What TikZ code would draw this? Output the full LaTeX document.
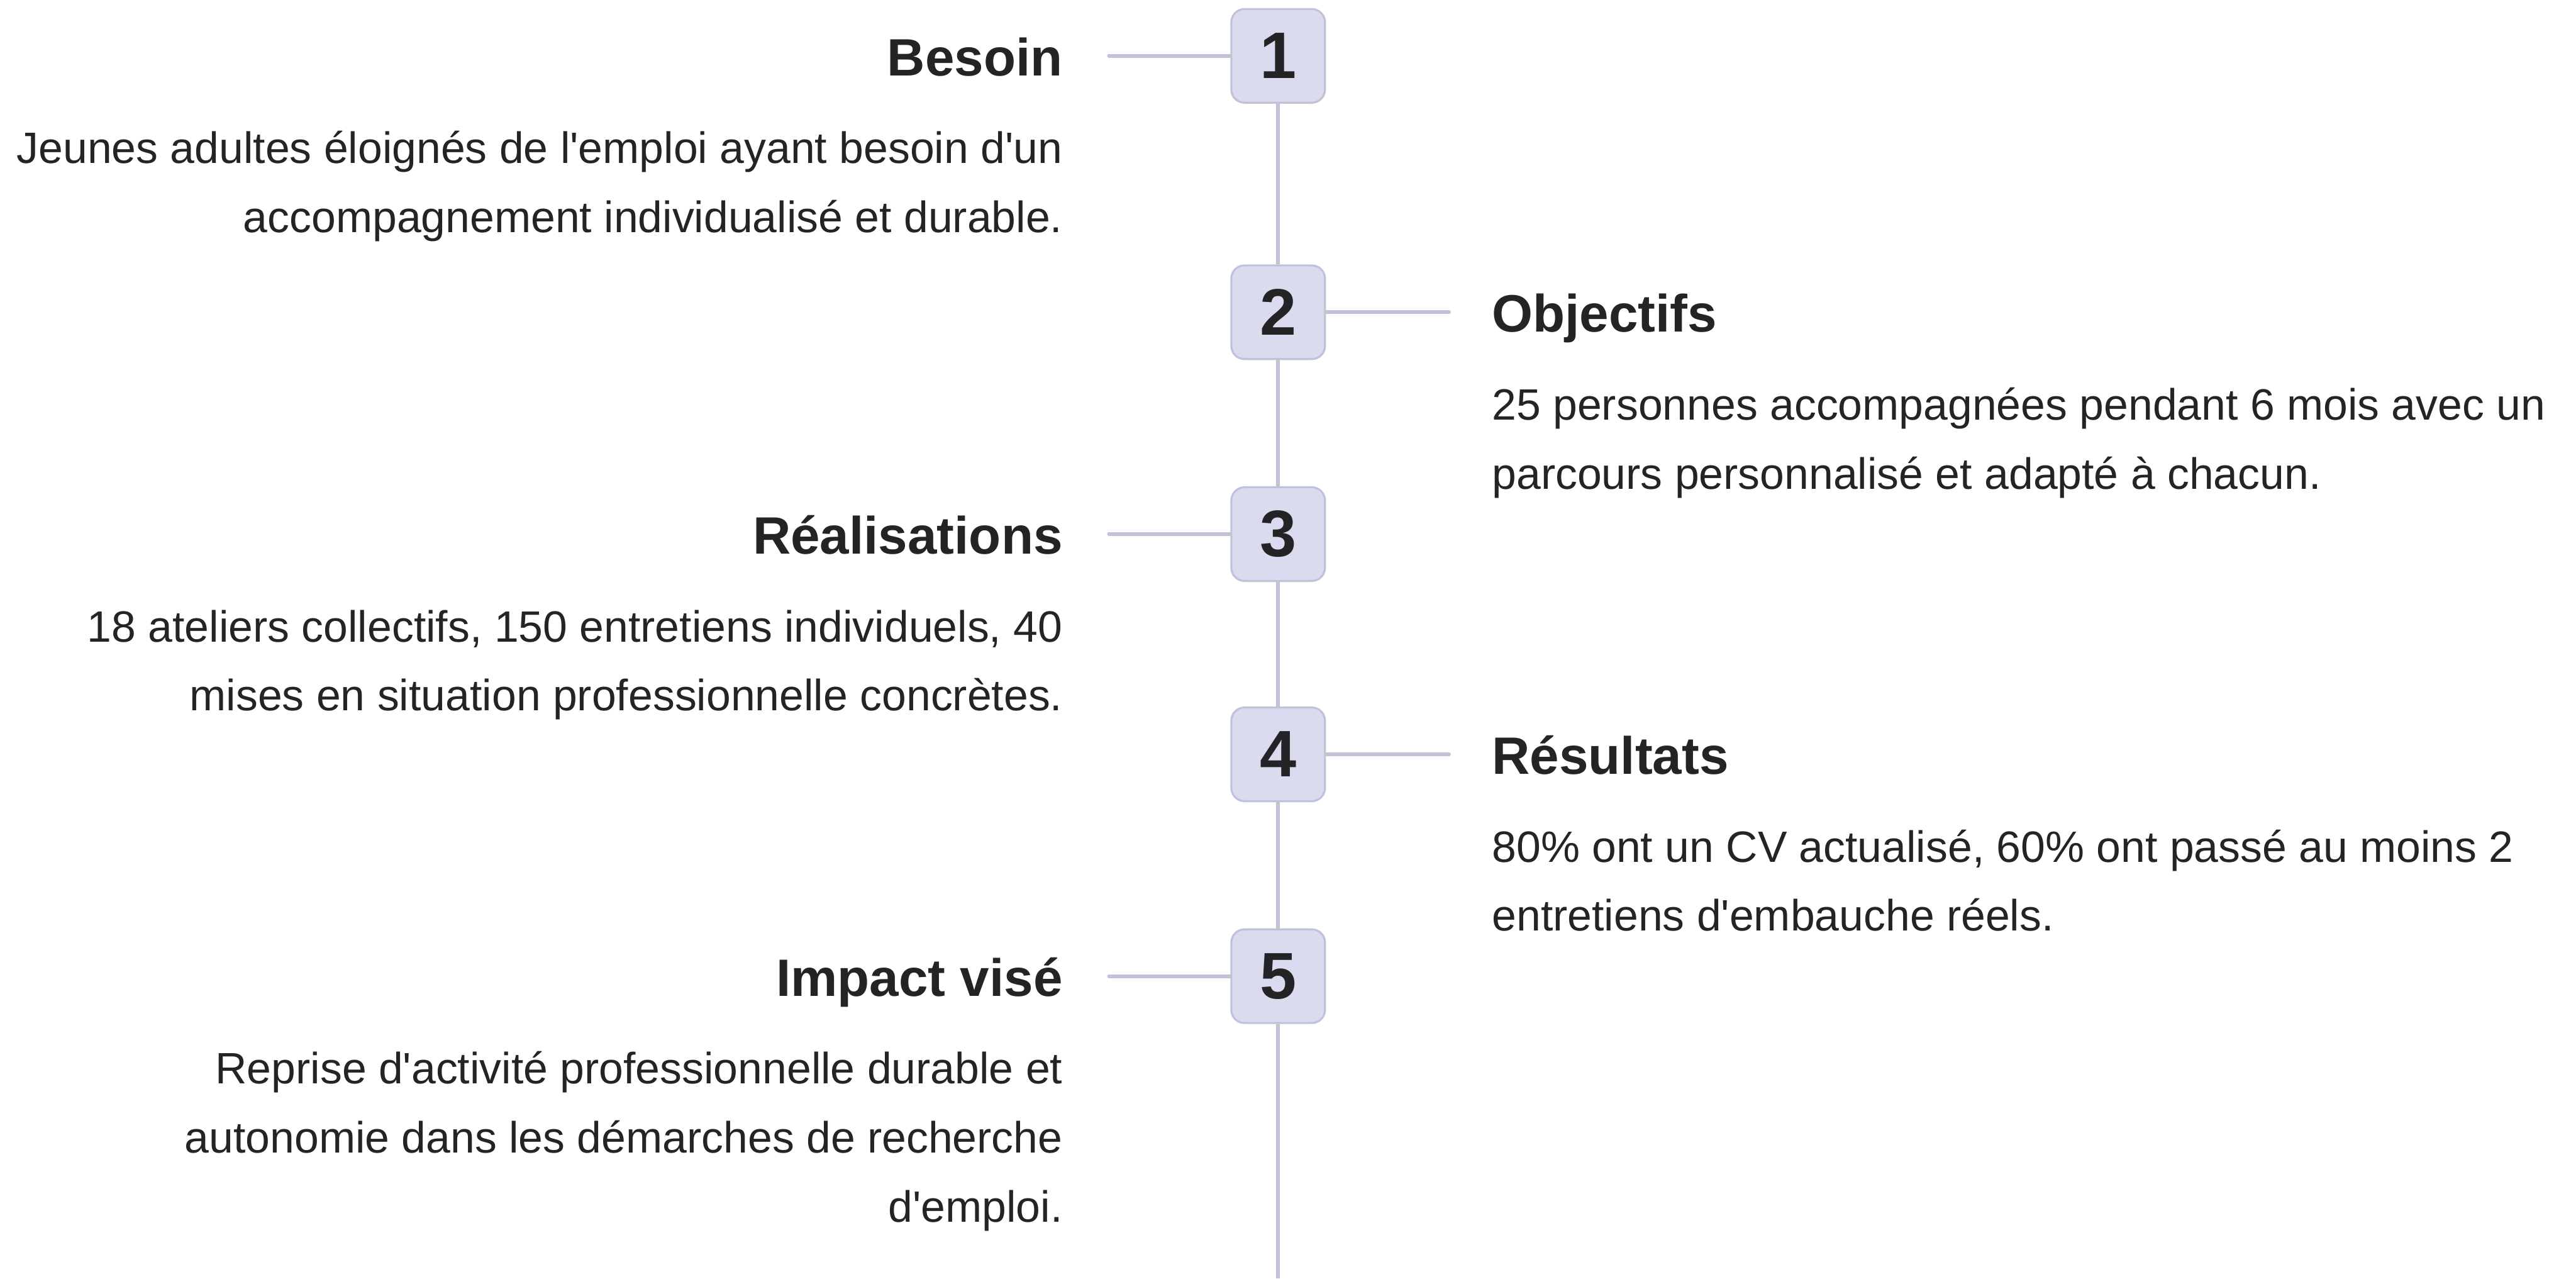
\documentclass[tikz,border=0pt]{standalone}
\usepackage{fontspec}
\newfontfamily\uifont{Liberation Sans}
\usepackage{xcolor}
\definecolor{inkgray}{RGB}{36, 36, 38}
\definecolor{stepfill}{RGB}{218, 219, 239}
\definecolor{stepline}{RGB}{193, 193, 216}
\usepackage{tikz}
\usetikzlibrary{positioning,backgrounds}

\begin{document}
\begin{tikzpicture}[
					x=1pt, y=-1pt,
					num/.style={draw=stepline, line width=1.2pt, fill=stepfill, rounded corners=8pt,
						minimum size=57pt, inner sep=0pt, text=inkgray,
						font=\uifont\bfseries\fontsize{40}{40}\selectfont},
					headL/.style={anchor=base east, inner sep=0pt, text=inkgray,
						font=\uifont\bfseries\fontsize{32}{32}\selectfont},
					headR/.style={headL, anchor=base west},
					textL/.style={anchor=base east, inner sep=0pt, align=right, text=inkgray,
						font=\uifont\fontsize{26.7}{42}\selectfont},
					textR/.style={textL, anchor=base west, align=left},
					link/.style={stepline, line width=2.2pt, line cap=round}
					]
					\useasboundingbox (0,0) rectangle (1568,778);
					
					\node[num] (n1) at (778,34)  {1};
					\node[num] (n2) at (778,190) {2};
					\node[num] (n3) at (778,325) {3};
					\node[num] (n4) at (778,459) {4};
					\node[num] (n5) at (778,594) {5};
					
					% the base of a wrapped text is its last line
					\node[headL] (besoin)   at (647,46)    {Besoin};
					\node[textL] (besoinT)  at (647,141.5) {Jeunes adultes éloignés de l'emploi ayant besoin d'un\\accompagnement individualisé et durable.};
					\node[headR] (obj)      at (908,202)   {Objectifs};
					\node[textR] (objT)     at (908,297.5) {25 personnes accompagnées pendant 6 mois avec un\\parcours personnalisé et adapté à chacun.};
					\node[headL] (real)     at (647,337)   {Réalisations};
					\node[textL] (realT)    at (647,432.5) {18 ateliers collectifs, 150 entretiens individuels, 40\\mises en situation professionnelle concrètes.};
					\node[headR] (res)      at (908,471)   {Résultats};
					\node[textR] (resT)     at (908,566.5) {80\% ont un CV actualisé, 60\% ont passé au moins 2\\entretiens d'embauche réels.};
					\node[headL] (impact)   at (647,606)   {Impact visé};
					\node[textL] (impactT)  at (647,743.5) {Reprise d'activité professionnelle durable et\\autonomie dans les démarches de recherche\\d'emploi.};
					
					\coordinate (l1) at (675,34);
					\coordinate (r2) at (882,190);
					\coordinate (l3) at (675,325);
					\coordinate (r4) at (882,459);
					\coordinate (l5) at (675,594);
					\coordinate (end) at (778,778);
					
					\begin{scope}[on background layer]
						\draw[link, line cap=butt] (n1) -- (n2) -- (n3) -- (n4) -- (n5) -- (end);
						\draw[link] (n1) -- (l1);
						\draw[link] (n2) -- (r2);
						\draw[link] (n3) -- (l3);
						\draw[link] (n4) -- (r4);
						\draw[link] (n5) -- (l5);
					\end{scope}
				\end{tikzpicture}
\end{document}
